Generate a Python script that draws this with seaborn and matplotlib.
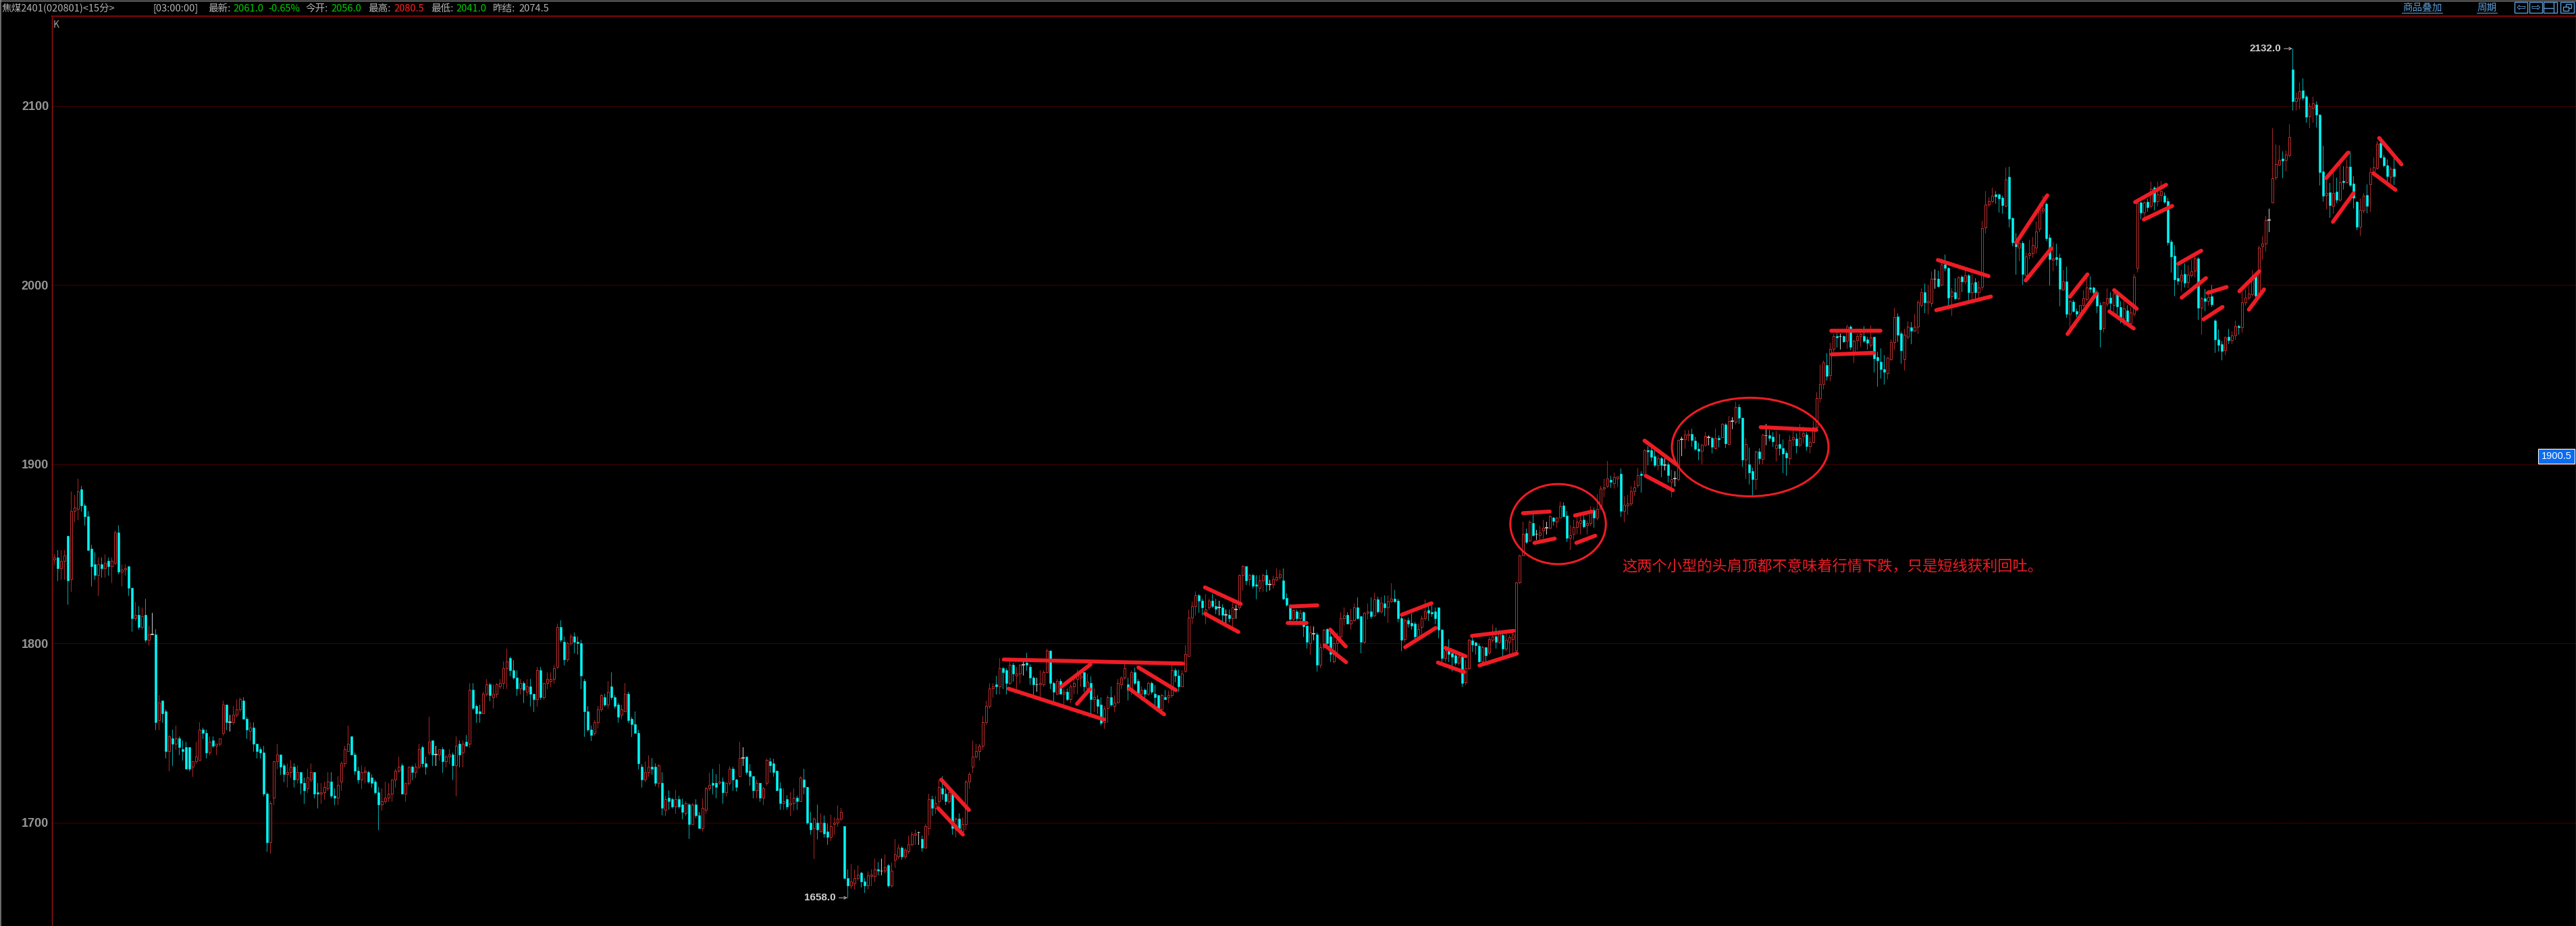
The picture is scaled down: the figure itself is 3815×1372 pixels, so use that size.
#GRAFICO K DE 15 MINUTOS - JIAOMEI 2401
import matplotlib
matplotlib.use('Agg')
import matplotlib.pyplot as plt
import matplotlib.transforms as mtransforms
from matplotlib.lines import Line2D
from matplotlib.patches import Ellipse, Rectangle
import numpy as np
import pandas as pd
import seaborn as sns

# DATOS
###########################################################################################################
opens = [
    1847,1848,1842,1846,1860,1836,1874,1875,1886,1877,
    1871,1853,1844,1838,1844,1842,1846,1843,1845,1862,
    1840,1841,1843,1831,1814,1816,1809,1816,1802,1805,
    1805,1757,1768,1762,1740,1747,1744,1747,1741,1742,
    1742,1731,1734,1735,1752,1750,1739,1746,1743,1744,
    1750,1766,1756,1756,1760,1763,1768,1758,1751,1753,
    1744,1741,1739,1716,1689,1714,1734,1738,1732,1727,
    1728,1731,1724,1728,1722,1719,1724,1728,1717,1716,
    1717,1719,1723,1715,1714,1723,1733,1740,1748,1738,
    1729,1724,1728,1728,1725,1723,1717,1710,1712,1714,
    1716,1724,1729,1732,1716,1722,1731,1728,1731,1742,
    1733,1739,1746,1738,1738,1741,1734,1737,1738,1732,
    1744,1739,1745,1744,1774,1765,1762,1761,1772,1777,
    1770,1772,1776,1778,1786,1792,1785,1781,1775,1778,
    1773,1776,1772,1769,1785,1770,1778,1779,1780,1787,
    1809,1801,1791,1800,1804,1801,1800,1779,1762,1752,
    1750,1756,1763,1770,1766,1776,1770,1766,1760,1762,
    1772,1758,1755,1750,1731,1724,1728,1731,1731,1722,
    1722,1707,1714,1713,1709,1713,1710,1705,1710,1699,
    1710,1704,1697,1707,1719,1722,1722,1722,1723,1717,
    1722,1730,1724,1726,1736,1737,1729,1726,1718,1722,
    1714,1722,1734,1733,1729,1719,1711,1713,1710,1711,
    1714,1712,1724,1720,1700,1697,1700,1695,1700,1695,
    1692,1699,1700,1702,1698,1669,1665,1666,1669,1672,
    1667,1665,1670,1670,1674,1673,1673,1676,1665,1679,
    1681,1686,1681,1684,1688,1693,1694.5,1691,1686,1697,
    1713,1708,1712,1719,1716,1712,1716,1696,1702,1695,
    1699,1723,1731,1737,1740,1743,1756,1765,1775,1777,
    1776,1786,1785,1778,1788,1782,1783,1788,1789,1787,
    1781,1777,1777,1777,1784,1796,1778,1772,1779,1772,
    1773,1769,1776,1780,1781,1784,1775,1778,1769,1769,
    1766,1756,1764,1770,1765,1767,1777,1781,1777,1775,
    1784,1779,1772,1774,1772,1778,1772,1771,1763,1770,
    1770,1771,1785,1782,1776,1784.5,1793,1814.5,1821,1827,
    1824,1817,1820,1824,1821,1820,1820,1816,1816,1814,
    1819,1820,1838,1843,1836,1838,1833,1831,1835,1838,
    1833,1833,1835.5,1837,1835,1825.4,1821,1813.5,1818,1814,
    1817.5,1810,1800,1805.5,1805,1788,1798,1808,1804,1790,
    1800,1804,1814,1816,1811,1813,1820,1815,1801,1817,
    1818,1815.5,1824.7,1818,1822.4,1820,1823.6,1825,1824,1814,
    1802.5,1813,1811.4,1811,1804,1809,1814,1818.6,1817.6,1817.7,
    1820,1807.7,1792,1796,1794.6,1793.5,1789,1792.6,1778.4,1786,
    1801.6,1800.4,1798.5,1790,1798,1794.7,1802,1804,1801,1804.8,
    1797,1801,1802.5,1796,1834,1849,1861.4,1857.4,1867,1861,
    1860.4,1863,1864.5,1864.5,1870,1868,1870,1877,1871.4,1859,
    1861,1865,1867,1869,1866,1867,1874.2,1870,1875,1886.5,
    1888,1891.3,1889.4,1892,1894.5,1874,1877,1878,1885,1888.4,
    1894.5,1894,1908,1907.7,1904.4,1899.7,1903.5,1899.7,1900,1890,
    1892,1891.6,1914,1914,1916,1917,1913,1908.5,1907.5,1910.7,
    1915,1914.8,1909,1914.8,1915,1922,1911.3,1924,1923.6,1932,
    1926,1902.6,1900,1896,1891.5,1907,1903,1916,1916.3,1915.5,
    1909,1911.4,1909,1906.3,1903.5,1914,1914.2,1910.7,1915.8,1916.7,
    1910.2,1912.3,1920.5,1937,1944.6,1955.3,1949.6,1964.2,1971.6,1971.4,
    1971.4,1968.8,1976.8,1962.6,1969.2,1971.6,1971.6,1969.5,1966.7,1971,
    1959.7,1957.3,1953,1950.8,1958.8,1968,1982.6,1973.2,1958.8,1971,
    1976.4,1974.7,1976.8,1989,1996.2,1990.2,1989.8,2003.4,2003.4,2000,
    2011.6,2009.7,1993.7,1996.2,1992.7,2004.6,2002,2005.3,1996.1,2001.5,
    1996.1,1999.2,2032,2045,2046.7,2050.5,2050.5,2048.6,2044.3,2060.3,
    2037.6,2024.4,2020.7,2023.7,2005.6,2016.6,2018,2021,2031.4,2041.5,
    2045.4,2026.4,2014,2015.5,2015.2,1997.6,2002,1984,1990.7,1985.5,
    1984.7,1989,1992.2,1998.7,1998.5,1996.2,1988.7,1975.9,1989.7,1993,
    1989,1994.7,1987.8,1981.5,1986,1978.6,1984,2009.6,2046.3,2040.3,
    2046.5,2044.4,2054.5,2046.8,2050.4,2050,2046.8,2024.3,2016.4,2003.8,
    2002.3,2006,2001.6,2005.4,2008,2015,1987.2,1992.6,1991.2,1993.7,
    1980.2,1969.8,1967,1963.5,1971.3,1969.3,1971.8,1977.1,1976.5,1990.3,
    1993,1995,2006,1994.7,2021.8,2023,2036.5,2046.3,2059.9,2067.4,
    2070.6,2069.8,2072.5,2120.5,2102.6,2104.2,2108.6,2105.4,2094.3,2099,
    2100.6,2095,2063.3,2050.3,2051.6,2044.1,2052.3,2047.5,2058.2,2057.6,
    2066.2,2056.6,2046.5,2032.7,2041.5,2050.4,2056.4,2062.6,2065.4,2079.4,
    2071.4,2067,2060.4,2064.9]

closes = [
    1848,1842,1846,1849,1835,1874,1876,1885,1877,1871,
    1852,1843,1838,1844,1842,1845,1843,1846,1862,1840,
    1841,1842,1831,1814,1816,1809,1815,1802,1805,1805,
    1756,1767,1761,1740,1748,1744,1747,1742,1740,1730,
    1730,1734,1737,1752,1750,1739,1745,1743,1744,1747,
    1766,1756,1756,1760,1763,1769,1758,1752,1753,1744,
    1740,1739,1716,1689,1711,1734,1738,1731,1727,1728,
    1731,1724,1728,1722,1718,1725,1728,1716,1716,1717,
    1720,1723,1715,1714,1721,1733,1741,1744,1738,1729,
    1724,1728,1729,1723,1722,1717,1710,1712,1714,1716,
    1724,1729,1731,1716,1722,1731,1728,1731,1741,1733,
    1731,1745,1738,1738,1741,1734,1737,1738,1732,1743,
    1738,1744,1743,1774,1764,1761,1761,1772,1777,1771,
    1772,1777,1778,1786,1790,1785,1781,1775,1778,1774,
    1776,1772,1769,1785,1770,1778,1780,1780,1786,1809,
    1802,1791,1800,1804,1801,1800,1782,1762,1752,1749,
    1756,1763,1771,1766,1773,1770,1765,1759,1763,1772,
    1757,1755,1750,1733,1724,1728,1731,1730,1722,1732,
    1708,1713,1712,1709,1713,1709,1706,1711,1699,1710,
    1704,1697,1708,1719,1721,1721,1720,1723,1717,1722,
    1730,1724,1720,1736,1736,1728,1726,1718,1722,1714,
    1719,1735,1732,1728,1718,1711,1712,1709,1711,1714,
    1712,1725,1720,1700,1696,1702,1696,1700,1694,1692,
    1698,1700,1702,1706,1669,1665,1667,1669,1671,1667,
    1665,1670.5,1671,1674,1673,1673,1675,1665,1673,1682,
    1686,1681,1685,1688,1693.5,1694,1694.5,1686,1698,1713,
    1708,1711,1720,1716,1712,1717,1697,1702,1697,1699,
    1723,1727,1737,1740,1743,1756,1765,1775,1776,1776,
    1786,1784,1778,1788,1783,1783,1788,1788,1788,1781,
    1777,1777,1778,1784,1796,1778,1773,1779,1772,1773,
    1769,1776,1778,1782,1782,1776,1778.5,1769,1770,1765,
    1755.5,1763.5,1770,1766,1767,1778,1781,1786,1774,1784,
    1778,1772,1774,1772,1778,1773,1770,1763.5,1771,1769,
    1771,1785,1782,1776,1783,1794,1814.5,1821,1827,1824,
    1820,1819,1824,1821,1819.5,1820,1816,1816,1814,1820,
    1819,1838,1843,1835,1838,1832,1832,1835,1838,1833,
    1833,1836,1837,1838.5,1825,1821.4,1813.5,1818.5,1814,1817,
    1809.5,1801,1806,1805.5,1788,1798,1807.6,1800,1794,1800,
    1802,1814,1815.5,1811,1813,1820,1814,1801,1817,1818,
    1815,1824.7,1818,1822.6,1820,1823.6,1825,1823.4,1814,1802,
    1813,1811,1810,1804,1808,1814,1818,1817,1816.6,1814,
    1807.5,1792,1796,1794,1792.5,1789,1792.6,1778,1786,1802,
    1799.4,1799,1790,1798,1793.5,1802.5,1803.8,1801,1807,1797,
    1802,1803.5,1805,1834,1849,1861,1856.7,1868,1860.4,1861,
    1861.8,1864.5,1864.5,1871,1868.4,1870,1876.5,1871,1859,1860.4,
    1865,1868,1868.6,1865.4,1867,1874,1870,1875,1886.5,1887,
    1892,1890,1892.6,1893,1874,1877.5,1878,1885,1887,1894,
    1894,1908,1907,1904,1899.7,1903.5,1899.7,1899.7,1894,1891.6,
    1892,1913.6,1914,1916.7,1917,1913.6,1908.5,1907.3,1911,1915.7,
    1915,1909.8,1914.8,1914,1922.4,1911.7,1924.2,1924,1932,1925.8,
    1902.6,1911.4,1895.6,1891.5,1907,1903.5,1916.5,1916,1914.8,1912.7,
    1911,1909,1906,1903.8,1913.6,1915,1910.4,1914.8,1917.3,1910.2,
    1912.3,1920.7,1937,1944.7,1957,1949.4,1964.2,1971.4,1970.7,1971.4,
    1968.6,1976.8,1965.4,1968.8,1971.6,1972.6,1969,1967.8,1970.7,1959.2,
    1958,1953,1951.6,1959.4,1968,1982,1972.4,1963.8,1972.2,1976.8,
    1974.7,1976.8,1990.2,1996.2,1990.2,1991,2003.6,2003.4,1999.4,2011.6,
    2009.7,1993,1996.5,1992.7,2004.3,2002,2005.5,1995.9,2000.9,1995.9,
    1998.7,2031.7,2045,2046.7,2050,2049.6,2048.2,2044.6,2059,2037,
    2024,2021.6,2023.5,2006,2016,2017.8,2022.4,2030,2042,2042.7,
    2026,2014.6,2015,2014.6,1997.9,2002,1983.8,1991.2,1985.3,1983.8,
    1988.7,1992.5,1998.5,1997.9,1996,1988.4,1975.2,1990.3,1992.8,1990,
    1995.3,1988.2,1982,1987,1979.6,1984.7,2004.8,2045.6,2040.6,2046.3,
    2043.4,2053.8,2046.5,2050.7,2052.6,2046.5,2024,2015.8,2003.3,2002.3,
    2005.7,2001.4,2005.7,2007.7,2015,1987.2,1992.8,1991.3,1993.5,1989.4,
    1969.6,1966.8,1963.3,1970.8,1969.3,1971.8,1977,1976.5,1990.3,1993,
    1995.3,2003.5,1994.1,2020.9,2023,2036.5,2036.5,2059.5,2067.7,2069.8,
    2069.6,2072.7,2082.8,2102.6,2104.4,2108.2,2104.4,2094,2100.1,2101.6,
    2095,2063,2049.8,2051.3,2044.8,2051.3,2047.5,2057.6,2057.4,2066.2,
    2056.1,2048.8,2032.7,2041.9,2050,2044.4,2062.9,2065.7,2079,2071.2,
    2067,2060.8,2064.9,2061]

highs = [
    1850,1852,1852,1852,1860,1885,1883,1892,1888,1878,
    1874,1855,1851,1848,1848,1850,1848,1848,1863,1866,
    1844,1844,1843,1831,1823,1821,1820,1825,1810,1817,
    1808,1771,1768,1763,1749,1752,1754,1748,1746,1745,
    1742,1734,1745,1756,1753,1752,1748,1748,1744,1747,
    1768,1766,1760,1765,1769,1770,1770,1759,1756,1756,
    1744,1742,1743,1717,1712,1734,1744,1738,1733,1733,
    1735,1733,1732,1728,1725,1730,1733,1728,1722,1722,
    1723,1728,1728,1719,1726,1734,1743,1754,1748,1739,
    1731,1732,1731,1729,1727,1724,1720,1719,1723,1722,
    1724,1730,1737,1733,1722,1731,1732,1733,1744,1743,
    1737,1759,1746,1743,1741,1742,1738,1741,1739,1748,
    1746,1746,1749,1778,1778,1766,1766,1773,1780,1778,
    1777,1778,1780,1790,1797,1792.5,1790.5,1785,1780,1779,
    1780,1780,1772,1787,1787,1778,1784,1784,1788,1811,
    1813,1804,1801,1805.5,1806,1804,1802,1780,1765,1754,
    1757,1765,1772,1772,1779,1784,1771,1767,1766,1778,
    1773,1759,1762,1752,1732.5,1734,1737.5,1736,1733,1732.6,
    1728,1715,1718,1714,1718.5,1715,1713.5,1712,1711,1711,
    1713,1706,1713.6,1720,1727.6,1730,1727,1732.5,1725,1722.6,
    1731.6,1731,1724.5,1745,1742,1737,1732.5,1726,1724,1722,
    1720,1735.5,1736,1735.5,1729,1722.6,1719,1715.5,1717,1719,
    1715,1726,1730,1720,1706,1703,1710,1705,1704,1699.5,
    1704.5,1703,1709.5,1708,1698,1674,1677,1674,1676,1672.5,
    1669,1672.6,1674,1680,1678,1680,1682,1677,1677.6,1691,
    1688,1686.6,1686,1692.6,1695,1696,1695,1692.6,1699,1716,
    1715,1715,1724,1726,1719,1719,1717,1703,1705,1703,
    1723.5,1728,1746,1744,1744,1759.5,1768,1778,1778,1782,
    1792,1787,1786,1790,1789,1787,1788.5,1790,1795,1788.5,
    1781.6,1781,1785,1785,1797,1796,1778.5,1780,1780,1775,
    1775,1777,1780,1785.6,1785,1784,1783,1781.6,1775,1771,
    1770,1765,1771,1776,1771,1780,1781.6,1788.5,1781,1785,
    1786.6,1780,1776,1775,1778.5,1778.5,1776.6,1771,1772,1774,
    1773.7,1788,1786,1785.4,1785,1799,1819,1823.5,1829,1827.5,
    1825,1827.5,1825,1827.5,1825,1824,1822,1819,1819,1823,
    1821.6,1838.5,1843.7,1843,1839,1839,1838,1838,1839,1841,
    1835.6,1837.6,1842,1841,1842,1828,1822,1819,1819,1819,
    1818,1810,1810,1809.5,1806,1800,1808,1808.5,1806,1805,
    1806,1817.6,1820,1817.4,1819.5,1822.4,1825.8,1815,1817.4,1822.4,
    1825.8,1828.4,1826,1826,1827,1826.8,1833.7,1830,1825,1815,
    1814,1814.6,1816.7,1812,1811,1815.5,1824.6,1821,1821.4,1820,
    1820,1808,1798,1802.5,1795.4,1795,1795,1795,1790.5,1802.5,
    1803.5,1801,1800,1798.5,1798,1804,1810.8,1808.8,1807.5,1806.6,
    1806.6,1804.8,1807.3,1834.3,1849.5,1868,1864,1868.5,1872,1863.3,
    1865.5,1869,1868,1871.5,1870.5,1870.5,1879.4,1878.7,1874,1866,
    1869,1871.7,1871.4,1871.2,1868.7,1876.7,1876,1883.4,1888,1892,
    1902,1893.5,1895.4,1893,1897.5,1882.4,1883,1888,1891,1898,
    1896,1908.5,1910,1909,1908,1905.4,1904,1903.5,1901,1897,
    1896,1914,1915.5,1919,1919,1920,1915.5,1912,1911.3,1918,
    1916.3,1915.5,1920,1916,1923,1923,1927,1926.5,1935,1933.3,
    1926,1914.8,1909.5,1898,1907.4,1909,1917,1922.4,1919,1918,
    1918.6,1917,1914,1907.3,1916,1918.6,1917.3,1922.4,1921,1918,
    1915.5,1924.5,1940.3,1955.6,1958,1962,1967.6,1973.2,1973.5,1973.2,
    1972,1978,1977.5,1969.5,1973,1975,1977,1971,1977.6,1971,
    1963,1964.7,1961,1960,1969.7,1987.3,1984.5,1974,1975.7,1979.8,
    1979.3,1984,1991.5,1998.4,2000.9,2000,2007.8,2009,2008,2015,
    2017,2010,1998.4,2004,2005,2005.3,2008.4,2006,2006,2004,
    2002.4,2035.8,2052.4,2049,2054.3,2052.4,2051,2049.9,2065.6,2066.2,
    2037.7,2029,2024.7,2024.5,2018.2,2025.3,2027,2035.6,2045.6,2050,
    2046,2028.4,2024.3,2023.3,2017.6,2008.3,2010.2,1992,1992,1987,
    1989,1997.2,2005,2005,1999,1997.2,1990.3,1990.7,1998.2,1996.2,
    1996.6,1996.6,1991,1991.6,1989,1987.8,2006.3,2046.3,2046.5,2047,
    2048.2,2057.9,2055.3,2057.9,2058.2,2051.6,2048.8,2025.5,2022.4,2011,
    2008.6,2012.3,2011,2014,2016.7,2015.5,1993.4,1997.9,1997.2,2000,
    1981,1975.2,1969,1971.4,1975.6,1974.3,1980.2,1977.8,1996.6,1997.9,
    1999.7,2008.6,2006.7,2022.1,2027.2,2038.5,2042.8,2087.5,2078.7,2078.1,
    2074.8,2075.2,2090,2132,2107.7,2113.3,2115.5,2106,2101.6,2105.2,
    2102.6,2095.5,2077.7,2060.1,2057,2064.5,2060,2070.2,2066.4,2070.2,
    2074.6,2060.8,2047,2048.2,2051.3,2056.4,2065.8,2071.4,2080.3,2082,
    2073,2070.2,2066,2070.8]

lows = [
    1844,1835,1836,1836,1822,1829,1868,1869,1874,1866,
    1852,1832,1836,1827,1837,1837,1838,1834,1844,1839,
    1832,1838,1827,1807,1813,1808,1808,1801,1799,1805,
    1752,1752,1756,1736,1729,1732,1741,1738,1735,1730,
    1729,1726,1733,1735,1747,1736,1738,1742,1738,1743,
    1749,1752,1751,1755,1759,1762,1758,1747,1746,1740,
    1736,1736,1715,1684,1683,1710,1730,1727,1723,1720,
    1725,1720,1722,1716,1711,1717,1723,1714,1708,1711,
    1713,1718,1714,1710,1710,1718,1731,1740,1738,1727,
    1722,1719,1722,1722,1720,1716,1696,1707,1711,1712,
    1712,1720,1728,1716,1712,1721,1724,1725,1730,1731,
    1727,1738,1732,1732,1735,1728,1731,1733,1724,1715,
    1731,1731,1743,1742,1763,1756,1756,1761,1771,1768,
    1764,1770,1775,1775,1775,1782,1780,1771,1772,1767,
    1771,1765,1762,1765,1769,1769,1775,1776,1778,1786,
    1801,1788,1790,1799,1795,1794,1775,1748,1751,1746,
    1749,1753,1762,1765,1764,1769,1764,1756,1758,1762,
    1756,1748,1750,1730,1720,1723,1726,1727,1720.5,1720,
    1704.5,1704,1707.6,1708,1705,1708,1702,1704,1691.4,1699,
    1703,1697,1695.5,1705,1718,1716,1714,1721.5,1711,1715,
    1721,1718,1717.6,1726,1732,1727,1721,1714,1714,1712,
    1710,1721,1728,1726,1718,1707.6,1707.6,1707.6,1704,1707,
    1707.6,1712,1716,1699,1693.5,1680,1691,1695,1692,1688,
    1690,1693.5,1698,1701,1669,1658,1663.5,1663,1668,1664,
    1661,1663,1665,1667,1671,1671,1672,1664,1664,1675,
    1680,1679.5,1680,1683,1687,1688,1688,1684,1686,1693,
    1704,1705,1709,1713,1710,1711,1693.5,1692,1695,1694,
    1696,1719,1728,1736,1735,1741,1755,1764,1770,1772,
    1772,1775,1772,1777,1779,1775,1778,1782.5,1785,1777,
    1771,1773.5,1770,1776,1784,1775,1767,1771.6,1772,1766,
    1768,1767,1772,1772,1776,1773.5,1774,1761,1762,1761,
    1754.7,1752.5,1756,1765,1762,1767,1775,1780,1768.5,1771.6,
    1777,1771,1768.5,1770,1771,1772,1765,1763,1762,1769,
    1767,1770,1778.5,1773.5,1776,1784,1793,1811,1816,1817.5,
    1816,1811,1819,1820,1816.6,1816,1812,1811.6,1812,1809,
    1814,1819,1830,1833,1832.5,1831,1825,1829,1829,1829,
    1830,1831,1835,1836,1824.7,1821,1812.5,1813,1813,1813,
    1804,1797.5,1794,1802,1784.5,1786.6,1796.6,1799,1790,1789,
    1795,1803,1810.4,1811,1808,1812.6,1813.6,1795,1800,1813.6,
    1814,1815,1817,1817,1815.5,1811.7,1823,1823,1812,1796,
    1801,1809,1808,1802,1803,1804,1813,1813,1815,1811,
    1803,1790,1790,1790,1784.7,1788,1788,1776,1777,1785.6,
    1795.4,1794,1789.6,1789,1789.7,1794,1801,1797.5,1800,1792.8,
    1796,1794,1794,1795,1833.5,1849,1855.7,1857,1860,1858,
    1857,1859,1861,1864,1866,1865,1870,1871,1857,1852.3,
    1858,1861,1861,1864.5,1861,1866,1865,1869,1875,1882,
    1887,1887,1886.8,1887.5,1871,1868,1872,1877,1882.5,1887,
    1884.6,1893,1899.7,1902,1899,1897,1893,1897,1890,1882,
    1888,1891,1905,1909,1913,1910,1908,1902.6,1900.4,1910,
    1910.7,1906.4,1908.5,1909.7,1915,1909.4,1911,1920,1922.4,1923,
    1899,1892,1889,1883,1886,1900.4,1900.4,1910.7,1913,1910,
    1902,1905.4,1895.6,1893.8,1900,1910.4,1906.4,1909.8,1912,1908,
    1906.4,1912,1920,1934.5,1942,1947.2,1946.5,1963,1965.5,1964.5,
    1968,1964.7,1964,1957,1964,1966,1968,1964.5,1965.5,1951.6,
    1943.7,1948,1944.6,1947.8,1958,1964,1968.5,1956.3,1952.5,1970,
    1967.2,1974,1972.9,1987.7,1984.8,1984,1988,1998.4,1999,1999.8,
    2008,1989,1983.3,1992,1992,1996.5,2001,1991.5,1992,1992,
    1993,1997.7,2029,2044,2046,2045.8,2041,2040,2043.8,2032.5,
    2021.9,2006,2013.7,2000.7,2005,2015,2015.5,2018,2030,2040,
    2025,2000,2008,2011,1988.4,1997,1982,1975.8,1985,1982.5,
    1981.5,1988,1991,1996,1995,1984.7,1965.4,1973.6,1988,1984.7,
    1985.3,1984,1979,1977.7,1978.6,1977,1983,2007.5,2036.9,2037.5,
    2041.3,2043,2041.9,2044.4,2047,2045.6,2022.4,2007.3,1994,2000.4,
    1996.6,1999,1998.5,2004.5,2004.8,1981,1972.7,1986,1989,1988,
    1962.6,1963.3,1958.2,1961.4,1967.3,1967.3,1969.8,1972.7,1973.6,1989,
    1992,1994,1992.8,1994,2014.6,2018.9,2030,2046,2059,2067,
    2060.1,2063.9,2071.7,2097.6,2097.9,2098.5,2103.5,2091,2087.8,2091,
    2088.4,2056,2046.9,2042.8,2038,2040,2046,2046.9,2053.8,2057,
    2055,2043.1,2031.2,2027.7,2040.5,2040.6,2041.3,2061,2064.5,2071,
    2066,2057,2057,2056.4]

# lineas a mano sobre el grafico: vela y precio de cada extremo
trend_i0 = [262.8,261.9,281.3,282.7,298.3,303,321.2,318.5,340.9,340.9,366.3,365.3,378,376.4,399.2,400.2,412.1,409.9,420,422.2,
            435.1,438.5,450.5,450.9,471.1,471.5,505.5,526.3,526.5,558,557.5,581.2,584,597.1,596.4,610.2,608.8,616.4,619,629.2,
            630.2,637.9,636.7,647.3,650.1,673,675,688.7,687]
trend_p0 = [1723.9,1708,1791,1774.75,1775.75,1766.25,1786.6,1774.75,1831.25,1816.6,1820.6,1811.5,1807.7,1799,1816,1797.9,1797.5,1789.3,1804.2,1787.7,
            1872.7,1856.1,1871.4,1856.1,1913.2,1893.5,1920.7,1974.5,1961.3,2014,1986,2023.7,2002.6,1993.5,1972.7,1997.2,1985.3,2046.3,2036.6,2011.9,
            1993,1995.7,1980.9,1996.6,1986.3,2059.7,2035.3,2082.1,2062.4]
trend_i1 = [271,269.2,334.3,311,307,306.8,332.3,328.8,351.5,350.8,374.2,370.9,382.6,382.7,408,409.2,418.1,417.7,432.3,433.3,
            443,444.5,455.5,456.5,480.7,479.5,522,541,539,573,573.7,590.4,591.6,602.3,604.9,616.9,616,625.6,627.4,636,
            637.4,643.5,642.3,653.2,654.6,679.5,681.1,695.3,693.5]
trend_p1 = [1707,1693.3,1788.75,1757.5,1788.25,1774.4,1773.9,1760.4,1822,1806.4,1821.25,1811.5,1798.3,1789.5,1822.4,1808.6,1792.8,1784,1807,1794.3,
            1873.6,1858.5,1873.6,1860.1,1899.7,1885.5,1919.2,1974.5,1962.2,2005,1993.6,2050.1,2020.5,2006,1995.3,1986.8,1975.8,2056,2044.2,2019.2,
            2003.9,1998.9,1987.8,2007.7,1997.6,2074,2051.3,2067.4,2053.2]

ellipse_i = [445.5, 502.4]
ellipse_p = [1866.6, 1909.6]
ellipse_w = [28.3, 46.4]
ellipse_h = [44.7, 55]

yticks = [1700, 1800, 1900, 2000, 2100]
nota = '这两个小型的头肩顶都不意味着行情下跌\uff0c只是短线获利回吐。'
header_gris = [(3, '焦煤2401(020801)<15分>'), (227, '[03:00:00]'), (308, '最新:'), (452, '今开:'),
               (545, '最高:'), (638, '最低:'), (730, '昨结:'), (768, '2074.5')]
header_verde = [(345, '2061.0'), (397, '-0.65%'), (490, '2056.0'), (675, '2041.0')]
header_rojo = [(583, '2080.5')]

# colores
ROJO = '#c4302f'
ROJO_MECHA = '#a82424'
CIAN = '#00f8f8'
CIAN_MECHA = '#00a6a6'
BLANCO = '#c8c8c8'
TRAZO = '#ee1c25'
AZUL = '#5b9bd5'
GRIS = '#b4b4b4'

# FIGURA
###########################################################################################################
W, H = 3815, 1372
sns.set_theme(style='dark', rc={'figure.facecolor': 'black', 'axes.facecolor': 'black', 'savefig.facecolor': 'black'})
plt.rcParams['font.family'] = ['Noto Sans CJK SC', 'DejaVu Sans']

fig = plt.figure(figsize=(W / 100, H / 100), dpi=100)
ax = fig.add_axes([77 / W, 0, (W - 77) / W, (H - 24) / H])
px = mtransforms.Affine2D().scale(1 / W, -1 / H).translate(0, 1) + fig.transFigure

df = pd.DataFrame({'i': np.arange(len(opens)), 'o': opens, 'h': highs, 'l': lows, 'c': closes})
subir = df[df['c'] > df['o']]
bajar = df[df['c'] < df['o']]
plano = df[df['c'] == df['o']]

# mechas con lineplot, una unidad por vela
for grupo, color in [(subir, ROJO_MECHA), (bajar, CIAN_MECHA), (plano, BLANCO)]:
    mechas = grupo.melt(id_vars='i', value_vars=['h', 'l'], value_name='precio')
    sns.lineplot(data=mechas, x='i', y='precio', units='i', estimator=None, color=color,
                 linewidth=0.75, legend=False, ax=ax, zorder=3)

# cuerpos: rojo hueco, cian relleno
ax.bar(subir['i'], subir['c'] - subir['o'], bottom=subir['o'], width=0.6, facecolor='black',
       edgecolor=ROJO, linewidth=0.7, zorder=4)
ax.bar(bajar['i'], bajar['o'] - bajar['c'], bottom=bajar['c'], width=0.6, facecolor=CIAN,
       edgecolor=CIAN, linewidth=0.4, zorder=4)
ax.bar(plano['i'], 0.3, bottom=plano['o'], width=0.7, facecolor=BLANCO, edgecolor=BLANCO, linewidth=0.6, zorder=4)

# lineas a mano
n = len(trend_i0)
trazos = pd.DataFrame({'seg': list(range(n)) * 2, 'i': trend_i0 + trend_i1, 'precio': trend_p0 + trend_p1})
sns.lineplot(data=trazos, x='i', y='precio', units='seg', estimator=None, color=TRAZO, linewidth=4.2,
             solid_capstyle='round', legend=False, ax=ax, zorder=5)
for i, p, w, h in zip(ellipse_i, ellipse_p, ellipse_w, ellipse_h):
    ax.add_patch(Ellipse((i, p), w, h, fill=False, edgecolor=TRAZO, linewidth=2.2, zorder=5))

# ejes
ax.set_xlim(-0.6, 747)
ax.set_ylim(1642.25, 2150.1)
ax.set_xlabel('')
ax.set_ylabel('')
ax.set_xticks([])
ax.set_yticks(yticks)
ax.set_yticklabels([str(t) for t in yticks], family='Liberation Sans', fontweight='bold', fontsize=13, color='#969696')
ax.tick_params(axis='y', length=0, pad=3.5)
ax.grid(axis='y', color='#8a0000', linewidth=0.75, linestyle=(0, (1, 1)))
ax.set_axisbelow(True)
for lado in ['right', 'bottom']:
    ax.spines[lado].set_visible(False)
ax.spines['left'].set_color('#a01414')
ax.spines['left'].set_linewidth(1)
ax.spines['top'].set_color('#7a0808')
ax.spines['top'].set_linewidth(1.6)

# maximo y minimo
for i_vela, precio, texto, dy in [(235, 1658, '1658.0', 0), (663, 2132, '2132.0', 0)]:
    ax.annotate(texto, xy=(i_vela, precio), xytext=(-17, dy), textcoords='offset pixels', ha='right', va='center',
                family='Liberation Sans', fontweight='bold', fontsize=11, color='#d0d0d0', zorder=6,
                arrowprops=dict(arrowstyle='->', color='#b0b0b0', lw=0.8, shrinkA=1, shrinkB=0, mutation_scale=7))

# nota
fig.text(2402, 840, nota, transform=px, color=TRAZO, fontsize=16, va='center', ha='left')

# CABECERA
###########################################################################################################
for filas, color in [(header_gris, GRIS), (header_verde, '#00d000'), (header_rojo, '#ff2222')]:
    for x, texto in filas:
        fig.text(x, 13, texto, transform=px, color=color, fontsize=10.5, va='center', ha='left')
fig.text(79, 37, 'K', transform=px, color='#a0a0a0', fontsize=10, va='center', ha='left')

# botones de la derecha
for x0, x1, texto in [(3557, 3617, '商品叠加'), (3668, 3698, '周期')]:
    fig.text((x0 + x1) / 2, 12, texto, transform=px, color=AZUL, fontsize=10.5, va='center', ha='center')
    fig.add_artist(Line2D([x0, x1], [19, 19], transform=px, color=AZUL, linewidth=0.8))
for x0, x1 in [(3724, 3743), (3746, 3765), (3767, 3787), (3792, 3812)]:
    fig.add_artist(Rectangle((x0, 3), x1 - x0, 16, transform=px, fill=False, edgecolor=AZUL, linewidth=1))
fig.text(3733.5, 10.5, '⇦', transform=px, color=AZUL, fontsize=12, va='center', ha='center', family='DejaVu Sans')
fig.text(3755.5, 10.5, '⇨', transform=px, color=AZUL, fontsize=12, va='center', ha='center', family='DejaVu Sans')
fig.add_artist(Line2D([3767, 3782], [12, 12], transform=px, color=AZUL, linewidth=1))
fig.add_artist(Line2D([3782, 3782], [3, 19], transform=px, color=AZUL, linewidth=1))
fig.add_artist(Rectangle((3800, 6), 8, 6, transform=px, fill=False, edgecolor=AZUL, linewidth=1))
fig.add_artist(Rectangle((3796, 10), 8, 6, transform=px, facecolor='black', edgecolor=AZUL, linewidth=1))

# etiqueta de precio a la derecha
fig.add_artist(Rectangle((3759, 665), 54, 22, transform=px, facecolor='#0a6cf0', edgecolor='white', linewidth=0.8))
fig.text(3786, 676, '1900.5', transform=px, color='white', fontsize=10.5, va='center', ha='center', family='Liberation Sans')

# borde de la ventana
fig.add_artist(Line2D([0.8, 0.8], [0, H], transform=px, color='#808080', linewidth=1.2))
fig.add_artist(Line2D([0, W], [0.5, 0.5], transform=px, color='#909090', linewidth=1))
fig.add_artist(Line2D([W - 0.5, W - 0.5], [0, H], transform=px, color='#606060', linewidth=1))

fig.savefig('out.png', dpi=100, facecolor='black')
